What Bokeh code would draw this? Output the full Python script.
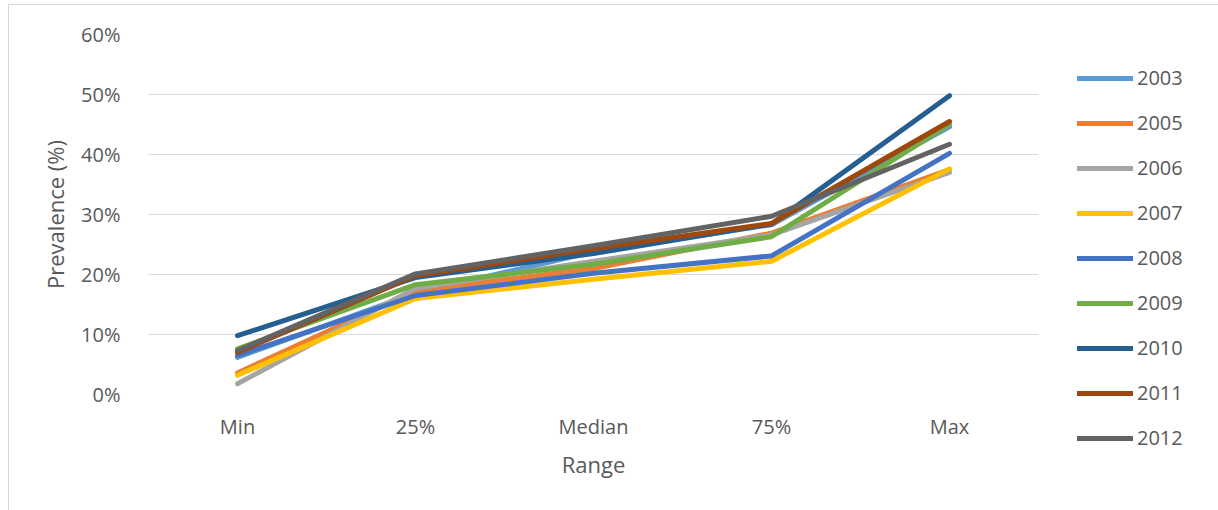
from bokeh.plotting import figure
from bokeh.models import FactorRange, Range1d, Legend, LegendItem, FixedTicker
from bokeh.embed import file_html
from bokeh.resources import INLINE

categories = ["Min", "25%", "Median", "75%", "Max"]
years = ["2003", "2005", "2006", "2007", "2008", "2009", "2010", "2011", "2012"]
v2003 = [6.2, 16.9, 23.8, 28.3, 44.6]
v2005 = [3.6, 17.3, 21.0, 26.9, 37.5]
v2006 = [1.8, 17.7, 22.2, 26.6, 37.0]
v2007 = [3.2, 16.0, 19.2, 22.2, 37.6]
v2008 = [6.5, 16.5, 20.2, 23.1, 40.2]
v2009 = [7.6, 18.3, 21.7, 26.3, 45.0]
v2010 = [9.8, 19.5, 23.5, 28.4, 49.8]
v2011 = [7.0, 19.8, 24.3, 28.5, 45.5]
v2012 = [7.3, 20.1, 24.8, 29.7, 41.7]
series = [v2003, v2005, v2006, v2007, v2008, v2009, v2010, v2011, v2012]
colors = ["#5B9BD5", "#ED7D31", "#A5A5A5", "#FFC000", "#4472C4",
          "#70AD47", "#255E91", "#9E480E", "#636363"]
y_ticks = [0, 10, 20, 30, 40, 50, 60]

FONT = "Open Sans"
TXT = "#595959"

p = figure(width=1204, height=506, x_range=FactorRange(*categories, range_padding=0),
           y_range=Range1d(0, 60), output_backend="svg", toolbar_location=None,
           min_border_left=139, min_border_right=10, min_border_top=29, min_border_bottom=116)
p.frame_width = 890
p.frame_height = 360
p.outline_line_color = None
p.background_fill_color = "white"
p.border_fill_color = "white"
p.styles = {"margin-left": "8px", "margin-top": "4px",
            "border-left": "1px solid #d9d9d9", "border-top": "1px solid #d9d9d9",
            "border-right": "1px solid #d9d9d9"}

p.xgrid.grid_line_color = None
p.ygrid.grid_line_color = "#d9d9d9"
p.ygrid.grid_line_width = 1
p.yaxis.ticker = FixedTicker(ticks=y_ticks)
p.yaxis.major_label_overrides = {t: f"{t}%" for t in y_ticks}

for ax in (p.xaxis[0], p.yaxis[0]):
    ax.axis_line_color = None
    ax.major_tick_line_color = None
    ax.minor_tick_line_color = None
    ax.major_label_text_font = FONT
    ax.major_label_text_font_size = "20px"
    ax.major_label_text_color = TXT
    ax.axis_label_text_font = FONT
    ax.axis_label_text_font_size = "22px"
    ax.axis_label_text_color = TXT
    ax.axis_label_text_font_style = "normal"

p.xaxis.axis_label = "Range"
p.yaxis.axis_label = "Prevalence (%)"
p.xaxis.major_label_standoff = 12
p.xaxis.axis_label_standoff = 6
p.yaxis.major_label_standoff = 22
p.yaxis.axis_label_standoff = 8

items = []
for yr, vals, c in zip(years, series, colors):
    r = p.line(categories, vals, line_color=c, line_width=5, line_cap="round", line_join="round")
    items.append(LegendItem(label=yr, renderers=[r]))

legend = Legend(items=items, location=(39, -57), orientation="vertical",
                glyph_width=56, glyph_height=20, label_height=20, spacing=18,
                label_standoff=4, padding=0, margin=0,
                border_line_color=None, background_fill_alpha=0,
                label_text_font=FONT, label_text_font_size="20px", label_text_color=TXT)
p.add_layout(legend, "right")

open("out.html", "w").write(file_html(p, INLINE))
